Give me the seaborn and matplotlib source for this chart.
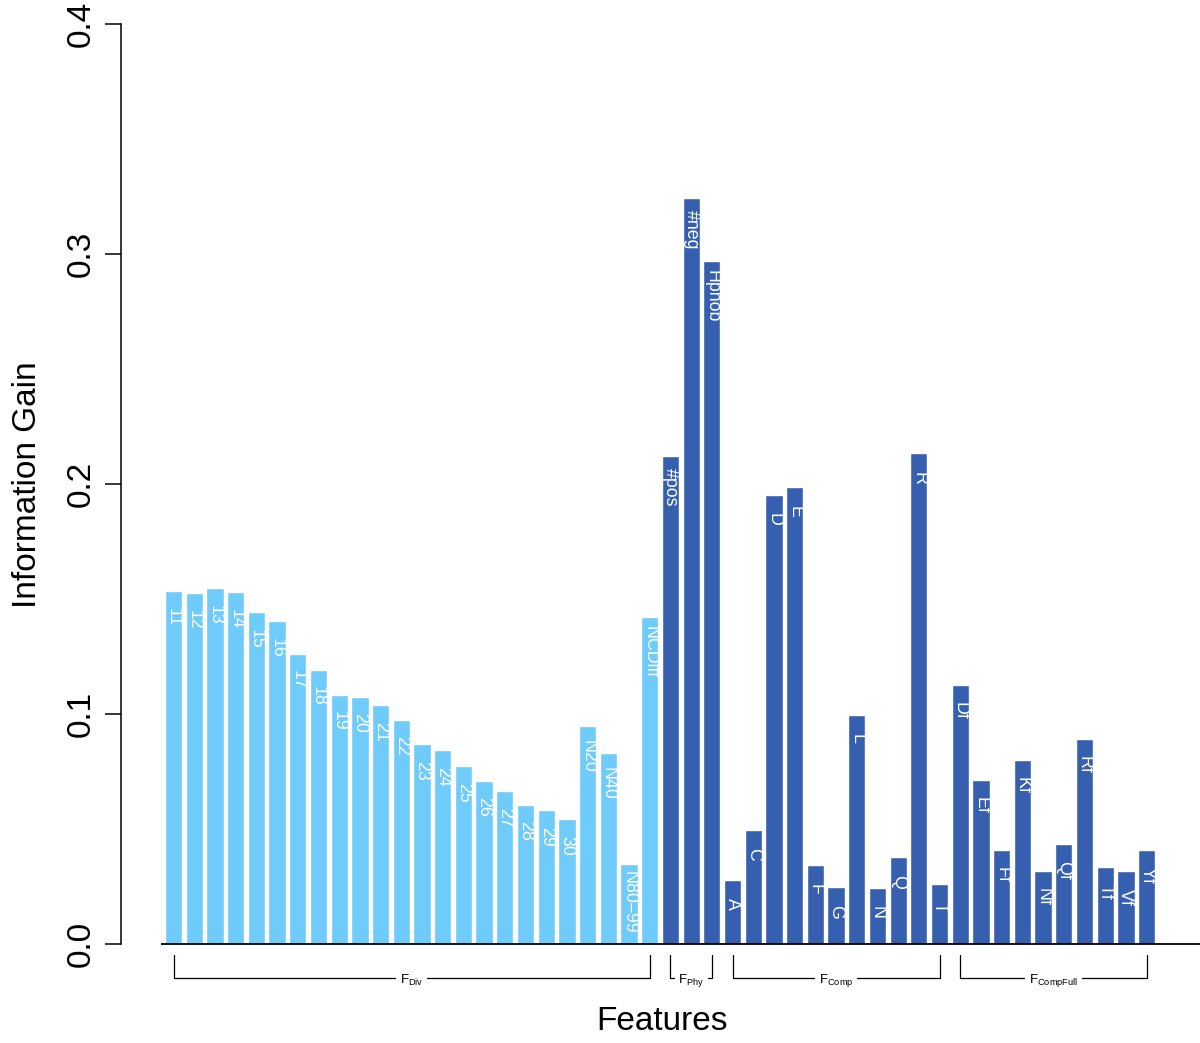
import pandas as pd
import matplotlib
matplotlib.use("Agg")
import matplotlib.pyplot as plt
import seaborn as sns

# feature groups
div_features = ["11", "12", "13", "14", "15", "16", "17", "18", "19", "20",
                "21", "22", "23", "24", "25", "26", "27", "28", "29", "30",
                "N20", "N40", "N80–99", "NCDiff"]
div_gain = [0.1535, 0.1524, 0.1548, 0.1529, 0.1444, 0.1404, 0.1262, 0.1192,
            0.1084, 0.1076, 0.1037, 0.0975, 0.0870, 0.0844, 0.0774, 0.0710,
            0.0664, 0.0606, 0.0583, 0.0543, 0.0948, 0.0831, 0.0349, 0.1422]

phy_features = ["#pos", "#neg", "Hphob"]
phy_gain = [0.2122, 0.3245, 0.2970]

comp_features = ["A", "C", "D", "E", "F", "G", "L", "N", "Q", "R", "T"]
comp_gain = [0.0280, 0.0496, 0.1953, 0.1986, 0.0343, 0.0249, 0.0995, 0.0243,
             0.0379, 0.2133, 0.0262]

full_features = ["Df", "Ef", "Ff", "Kf", "Nf", "Qf", "Rf", "Tf", "Vf", "Yf"]
full_gain = [0.1127, 0.0715, 0.0410, 0.0800, 0.0319, 0.0436, 0.0891, 0.0336,
             0.0316, 0.0410]

group_names = ["Div", "Phy", "Comp", "CompFull"]
group_labels = [r"$\mathregular{F_{Div}}$", r"$\mathregular{F_{Phy}}$",
                r"$\mathregular{F_{Comp}}$", r"$\mathregular{F_{CompFull}}$"]
y_ticks = [0.0, 0.1, 0.2, 0.3, 0.4]

LIGHT = "#6ECBFA"
DARK = "#3660AF"
palette = {"Div": LIGHT, "Phy": DARK, "Comp": DARK, "CompFull": DARK}

all_features = [div_features, phy_features, comp_features, full_features]
all_gain = [div_gain, phy_gain, comp_gain, full_gain]
rows = []
for name, feats, gains in zip(group_names, all_features, all_gain):
    for f, g in zip(feats, gains):
        rows.append({"feature": f, "gain": g, "group": name})
df = pd.DataFrame(rows)
order = list(df["feature"])

sns.set_style("ticks")
plt.rcParams["font.family"] = ["Liberation Sans", "DejaVu Sans"]
plt.rcParams["mathtext.fontset"] = "custom"
plt.rcParams["mathtext.rm"] = "Liberation Sans"
plt.rcParams["text.color"] = "black"
plt.rcParams["axes.edgecolor"] = "black"
plt.rcParams["ytick.color"] = "black"
plt.rcParams["ytick.labelcolor"] = "black"

W, H = 1200, 1043
fig = plt.figure(figsize=(W / 100, H / 100), dpi=100)
ax = fig.add_axes([121 / W, 1 - 944 / H, (1200 - 121) / W, (944 - 24) / H])

sns.barplot(data=df, x="feature", y="gain", hue="group", palette=palette,
            order=order, dodge=False, width=0.833, saturation=1,
            legend=False, ax=ax)

ax.set_xlim(-2.54, 49.58)
ax.set_ylim(0, 0.4)
ax.set_xticks([])
ax.set_xlabel("")
ax.set_ylabel("")
for s in ["top", "right", "bottom"]:
    ax.spines[s].set_visible(False)
ax.spines["left"].set_bounds(0, 0.4)
ax.spines["left"].set_linewidth(1.1)
ax.spines["left"].set_color("black")
ax.set_yticks(y_ticks)
ax.set_yticklabels([f"{t:.1f}" for t in y_ticks], rotation=90, va="center")
ax.tick_params(axis="y", length=11.5, width=1.1, pad=6, labelsize=24,
               left=True, direction="out", colors="black")

# baseline
ax.hlines(0, -0.61, 49.58, color="black", lw=1.3, clip_on=False, zorder=5)

# labels inside bars
anns = []
for i, (f, g) in enumerate(zip(df["feature"], df["gain"])):
    t = ax.annotate(f, xy=(i, g), xytext=(0, 0), textcoords="offset pixels",
                    rotation=-90, rotation_mode="anchor", ha="left",
                    va="center", color="white", fontsize=12.8)
    anns.append(t)
fig.canvas.draw()
for t in anns:
    L = t.get_window_extent().height
    t.xyann = (0, -(21 - 0.22 * L))

# group brackets below axis
tr = ax.get_xaxis_transform()
y_top = -(955 - 944) / 920
y_bot = -(978 - 944) / 920
start = 0
for lab, feats in zip(group_labels, all_features):
    x0, x1 = start, start + len(feats) - 1
    ax.plot([x0, x0, x1, x1], [y_top, y_bot, y_bot, y_top], transform=tr,
            color="black", lw=0.9, clip_on=False)
    ax.text((x0 + x1) / 2, y_bot - 0.003, lab, transform=tr, ha="center",
            va="center", fontsize=9.5, color="black", clip_on=False,
            bbox=dict(facecolor="white", edgecolor="none", pad=2.5))
    start += len(feats)

fig.text(662 / W, 1 - 1022 / H, "Features", ha="center", va="center",
         fontsize=24, color="black")
fig.text(28 / W, 1 - 485 / H, "Information Gain", ha="center", va="center",
         rotation=90, fontsize=24, color="black")

fig.savefig("out.png", dpi=100)
